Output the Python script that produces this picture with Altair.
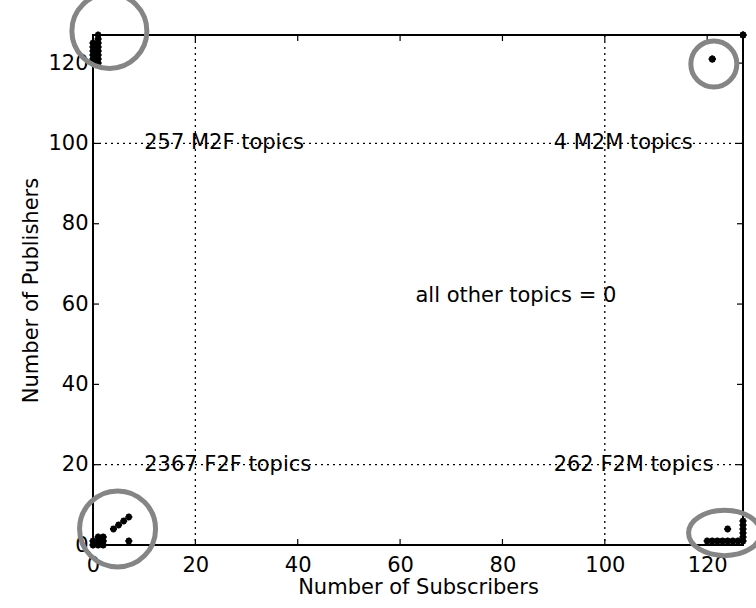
import altair as alt
import pandas as pd

# ---------------- data ----------------
# M2F topics: many publishers, few subscribers (top-left)
m2f_x = [0, 0, 0, 0, 0, 0, 1, 1, 1, 1, 1, 1, 1, 1]
m2f_y = [120, 121, 122, 123, 124, 125, 120, 121, 122, 123, 124, 125, 126, 127]
# M2M topics (top-right)
m2m_x = [121, 121, 127, 127]
m2m_y = [121, 121, 127, 127]
# F2F topics (bottom-left)
f2f_x = [0, 1, 2, 0, 1, 2, 1, 2, 4, 5, 6, 7, 7]
f2f_y = [0, 0, 0, 1, 1, 1, 2, 2, 4, 5, 6, 7, 1]
# F2M topics (bottom-right)
f2m_x = [120, 121, 122, 123, 124, 125, 126, 127, 124, 127, 127, 127, 127, 127]
f2m_y = [1, 1, 1, 1, 1, 1, 1, 1, 4, 2, 3, 4, 5, 6]

# annotation texts
note_text = ["257 M2F topics", "4 M2M topics", "2367 F2F topics",
             "262 F2M topics", "all other topics = 0"]
note_x = [10, 90, 10, 90, 63]
note_y = [100, 100, 20, 20, 62]

# threshold (dotted) lines
thresholds = [20, 100]

# axis tick values
tick_values = [0, 20, 40, 60, 80, 100, 120]

# highlight rings (centres in data units)
ring_x = [3.2, 121.3, 4.8]
ring_y = [128.0, 119.8, 4.0]
ring_d = [75, 46, 76]
ell_x = [123.4]
ell_y = [3.0]

# ---------------- chart ----------------
W, H = 650, 510
FONT = "DejaVu Sans"
xs = alt.Scale(domain=[0, 127], nice=False, zero=False)
ys = alt.Scale(domain=[0, 127], nice=False, zero=False)

XAX = alt.Axis(values=tick_values, title="Number of Subscribers", grid=False,
               domain=False, ticks=False, labelFont=FONT,
               labelFontSize=21, labelColor="black", labelPadding=9,
               labelFlush=False, titleFont=FONT, titleFontSize=21,
               titleFontWeight="normal", titleColor="black", titlePadding=1)
YAX = alt.Axis(values=tick_values, title="Number of Publishers", grid=False,
               domain=False, ticks=False, labelFont=FONT,
               labelFontSize=21, labelColor="black", labelPadding=5,
               labelFlush=False, titleFont=FONT, titleFontSize=21,
               titleFontWeight="normal", titleColor="black", titlePadding=6)


def X():
    return alt.X("x:Q", scale=xs, axis=XAX)


def Y():
    return alt.Y("y:Q", scale=ys, axis=YAX)


pts = pd.DataFrame({
    "x": m2f_x + m2m_x + f2f_x + f2m_x,
    "y": m2f_y + m2m_y + f2f_y + f2m_y,
})
notes = pd.DataFrame({"x": note_x, "y": note_y, "label": note_text})
thr_x = pd.DataFrame({"x": thresholds})
thr_y = pd.DataFrame({"y": thresholds})
tx = pd.DataFrame({"x": tick_values})
ty = pd.DataFrame({"y": tick_values})
rings = pd.DataFrame({"x": ring_x, "y": ring_y, "s": [d * d for d in ring_d]})
ell = pd.DataFrame({"x": ell_x, "y": ell_y})

dot = dict(color="black", strokeDash=[2, 4], strokeWidth=1.3)
vlines = alt.Chart(thr_x).mark_rule(**dot).encode(
    x=X(), y=alt.value(0), y2=alt.value(H))
hlines = alt.Chart(thr_y).mark_rule(**dot).encode(
    y=Y(), x=alt.value(0), x2=alt.value(W))

texts = alt.Chart(notes).mark_text(
    align="left", baseline="middle", font=FONT, fontSize=21,
    color="black").encode(x=X(), y=Y(), text="label:N")

ASTERISK = ("M -1 0 L 1 0 M 0 -1 L 0 1 M -0.7 -0.7 L 0.7 0.7 "
            "M -0.7 0.7 L 0.7 -0.7")
points = alt.Chart(pts).mark_point(
    shape=ASTERISK, filled=False, color="black", strokeWidth=2,
    size=49, opacity=1).encode(x=X(), y=Y())

tk = dict(color="black", strokeWidth=1.2)
ticks_b = alt.Chart(tx).mark_rule(**tk).encode(
    x=X(), y=alt.value(H), y2=alt.value(H - 6))
ticks_t = alt.Chart(tx).mark_rule(**tk).encode(
    x=X(), y=alt.value(0), y2=alt.value(6))
ticks_l = alt.Chart(ty).mark_rule(**tk).encode(
    y=Y(), x=alt.value(0), x2=alt.value(6))
ticks_r = alt.Chart(ty).mark_rule(**tk).encode(
    y=Y(), x=alt.value(W), x2=alt.value(W - 6))

CIRCLE = "M -1 0 A 1 1 0 1 0 1 0 A 1 1 0 1 0 -1 0 Z"
ELLIPSE = "M -1 0 A 1 0.63 0 1 0 1 0 A 1 0.63 0 1 0 -1 0 Z"
ring_layer = alt.Chart(rings).mark_point(
    shape=CIRCLE, filled=False, color="#858585", strokeWidth=5,
    opacity=1).encode(x=X(), y=Y(),
                      size=alt.Size("s:Q", scale=None, legend=None))
ell_layer = alt.Chart(ell).mark_point(
    shape=ELLIPSE, filled=False, color="#858585", strokeWidth=5,
    opacity=1, size=72 * 72).encode(x=X(), y=Y())

chart = alt.layer(
    vlines, hlines, texts, points, ticks_b, ticks_t, ticks_l, ticks_r,
    ring_layer, ell_layer
).properties(
    width=W, height=H,
    padding={"left": 93, "top": 35, "right": 13, "bottom": 63},
    autosize="none", background="white"
).configure_view(stroke="black", strokeWidth=2)

chart.save("out.html", embed_options={"renderer": "svg", "actions": False})
